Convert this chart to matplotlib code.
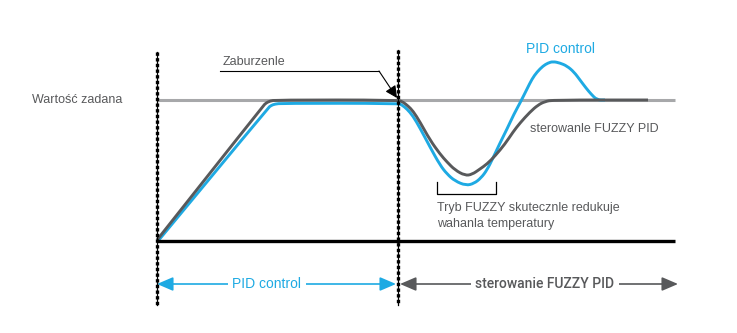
import matplotlib.pyplot as plt
from matplotlib.path import Path
from matplotlib.patches import PathPatch

# curve points (pixel coords, y down)
fuzzy_x = [157, 263, 266, 270, 276, 398, 403, 408, 413, 420, 430, 440, 447, 455, 465,
           472, 480, 487, 495, 505, 513, 520, 530, 538, 545, 553, 648]
fuzzy_y = [240, 106, 103, 101, 100, 100, 102, 106, 111, 122, 140, 154, 162, 170, 175.5,
           174.5, 169, 164, 156, 144, 132, 123, 112, 105, 101.5, 100, 100]

pid_x = [158, 268, 271, 275, 282, 398, 402, 407, 413, 420, 430, 440, 447, 455, 466,
         474, 481, 487, 493, 500, 507, 514, 520, 527, 532, 537, 543, 548, 553, 560,
         567, 574, 580, 586, 591, 597, 605]
pid_y = [241, 108, 105.5, 104, 103.3, 103.3, 105, 109, 116, 128, 147, 165, 174, 181, 185.5,
         183.5, 178, 170, 158, 143, 129, 114, 103, 89, 79, 72, 66, 63, 61.5, 63,
         66, 72, 80, 88, 94, 100, 100]

setpoint_y = 100

blue = '#1eaae3'
dgray = '#58595b'
lgray = '#a7a8aa'
tcol = '#58595b'
font = 'Liberation Sans'


def smooth_path(xs, ys):
    # quadratic bezier through segment midpoints, using the read points as controls
    pts = list(zip(xs, ys))
    verts = [pts[0]]
    codes = [Path.MOVETO]
    for i in range(1, len(pts) - 1):
        mid = ((pts[i][0] + pts[i + 1][0]) / 2, (pts[i][1] + pts[i + 1][1]) / 2)
        verts += [pts[i], mid]
        codes += [Path.CURVE3, Path.CURVE3]
    verts.append(pts[-1])
    codes.append(Path.LINETO)
    return Path(verts, codes)


fig = plt.figure(figsize=(7.37, 3.33), dpi=100)
ax = fig.add_axes([0, 0, 1, 1])
ax.set_xlim(0, 737)
ax.set_ylim(333, 0)
ax.axis('off')

# setpoint
ax.plot([157, 675], [setpoint_y, setpoint_y], color=lgray, lw=2.2, solid_capstyle='butt', zorder=1)

# curves
ax.add_patch(PathPatch(smooth_path(pid_x, pid_y), fill=False, edgecolor=blue, lw=2.1,
                       joinstyle='round', zorder=2))
ax.add_patch(PathPatch(smooth_path(fuzzy_x, fuzzy_y), fill=False, edgecolor=dgray, lw=2.1,
                       joinstyle='round', zorder=3))

# axes
ax.plot([157, 675], [241, 241], color='black', lw=2.4, solid_capstyle='butt', zorder=4)
for xv, y0 in [(157, 52), (398, 50)]:
    ax.plot([xv, xv], [y0, 305], color='black', lw=0.9, zorder=5)
    ax.plot([xv, xv], [y0, 305], color='black', lw=2.4, ls=(0, (1.0, 0.7)),
            dash_capstyle='butt', zorder=5)

# labels
ax.text(32, 100, 'Wartość zadana', fontsize=9, color=tcol, family=font, va='center', ha='left')
ax.text(223, 62, 'Zaburzenle', fontsize=9, color=tcol, family=font, va='center', ha='left')
ax.plot([220, 379], [71, 71], color='black', lw=0.8)
ax.annotate('', xy=(397, 98), xytext=(379, 71),
            arrowprops=dict(arrowstyle='-|>,head_length=0.6,head_width=0.3', color='black',
                            lw=0.8, mutation_scale=12, shrinkA=0, shrinkB=0))

ax.text(561, 49, 'PID control', fontsize=10, color=blue, family=font, va='center', ha='center')
ax.text(530, 129, 'sterowanle FUZZY PID', fontsize=9, color=tcol, family=font, va='center', ha='left')

# bracket
ax.plot([437, 437, 496, 496], [182, 194, 194, 182], color='black', lw=0.9)
ax.text(437, 208, 'Tryb FUZZY skutecznle redukuje', fontsize=9, color=tcol, family=font,
        va='center', ha='left')
ax.text(437, 224, 'wahanla temperatury', fontsize=9, color=tcol, family=font,
        va='center', ha='left')

# bottom range arrows
ax.annotate('', xy=(157, 284), xytext=(396, 284),
            arrowprops=dict(arrowstyle='<|-|>,head_length=0.7,head_width=0.3', color=blue,
                            lw=1.2, mutation_scale=14, shrinkA=0, shrinkB=0))
ax.text(267, 284, 'PID control', fontsize=10, color=blue, family=font, va='center', ha='center',
        bbox=dict(facecolor='white', edgecolor='none', pad=3))
ax.annotate('', xy=(400, 284), xytext=(678, 284),
            arrowprops=dict(arrowstyle='<|-|>,head_length=0.7,head_width=0.3', color=dgray,
                            lw=1.2, mutation_scale=14, shrinkA=0, shrinkB=0))
ax.text(545, 284, 'sterowanie FUZZY PID', fontsize=10, color=dgray, family='Roboto',
        fontweight='medium', va='center', ha='center',
        bbox=dict(facecolor='white', edgecolor='none', pad=3))

fig.savefig('out.png', dpi=100)
